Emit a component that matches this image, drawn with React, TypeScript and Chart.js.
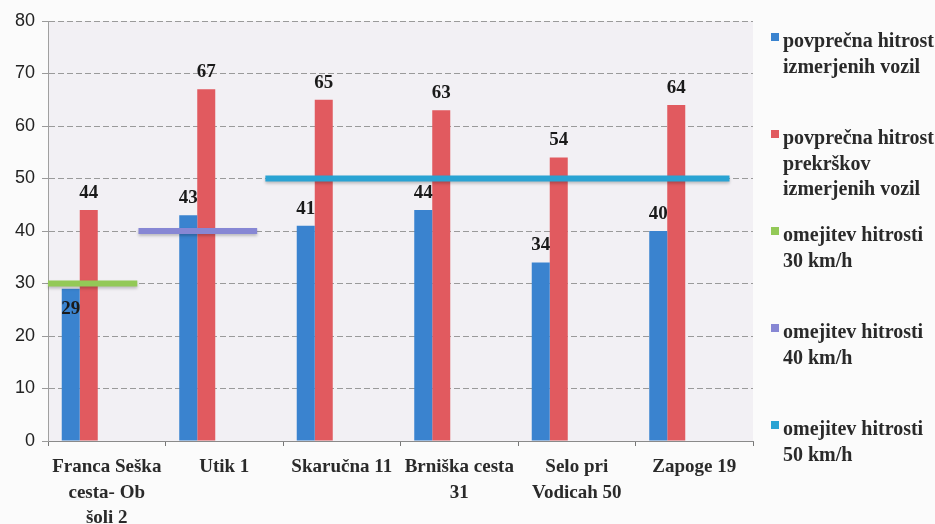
import { useEffect, useRef } from "react";
import { Chart, registerables } from "chart.js";

Chart.register(...registerables);

// ---- data ----
const categories: string[][] = [
  ["Franca Seška", "cesta- Ob", "šoli 2"],
  ["Utik 1"],
  ["Skaručna 11"],
  ["Brniška cesta", "31"],
  ["Selo pri", "Vodicah 50"],
  ["Zapoge 19"],
];
const avgSpeed = [29, 43, 41, 44, 34, 40];
const avgViolationSpeed = [44, 67, 65, 63, 54, 64];
const seriesNames: string[][] = [
  ["povprečna hitrost", "izmerjenih vozil"],
  ["povprečna hitrost", "prekrškov", "izmerjenih vozil"],
  ["omejitev hitrosti", "30 km/h"],
  ["omejitev hitrosti", "40 km/h"],
  ["omejitev hitrosti", "50 km/h"],
];
const limitValues = [30, 40, 50];
// extent of each limit line in category-index units
const limitFrom = [-0.5, 0.27, 1.35];
const limitTo = [0.26, 1.28, 5.3];
const yMin = 0;
const yMax = 80;
const yStep = 10;

// ---- styles ----
const seriesColors = ["#3a83cf", "#e15a5f", "#93c957", "#8787d4", "#2aa3d3"];
const serif = "'Liberation Serif', 'Times New Roman', serif";
const sans = "'Liberation Sans', Arial, sans-serif";
const textColor = "#2a2a2a";

const emptySeries = () => categories.map(() => null);

function limitSegments(chart: any) {
  const xs = chart.scales.x;
  const ys = chart.scales.y;
  const p0 = xs.getPixelForValue(0);
  const p1 = xs.getPixelForValue(1);
  const at = (v: number) => p0 + (p1 - p0) * v;
  return limitValues.map((v, i) => ({
    x1: at(limitFrom[i]),
    x2: at(limitTo[i]),
    y: ys.getPixelForValue(v),
    color: seriesColors[i + 2],
  }));
}

export default function App() {
  const ref = useRef<HTMLCanvasElement>(null);

  useEffect(() => {
    if (!ref.current) return;

    const bgPlugin = {
      id: "bg",
      beforeDraw(chart: any) {
        const { ctx, width, height } = chart;
        ctx.save();
        ctx.fillStyle = "#fbfbfb";
        ctx.fillRect(0, 0, width, height);
        const a = chart.chartArea;
        ctx.fillStyle = "#f2f0f4";
        ctx.fillRect(a.left, a.top, a.right - a.left, a.bottom - a.top);
        ctx.restore();
      },
    };

    const limitPlugin = {
      id: "limitLines",
      afterDatasetsDraw(chart: any) {
        const ctx = chart.ctx;
        ctx.save();
        ctx.lineWidth = 6;
        ctx.lineCap = "butt";
        ctx.shadowColor = "rgba(0,0,0,0.22)";
        ctx.shadowBlur = 3;
        ctx.shadowOffsetY = 2;
        for (const s of limitSegments(chart)) {
          ctx.strokeStyle = s.color;
          ctx.beginPath();
          ctx.moveTo(s.x1, s.y);
          ctx.lineTo(s.x2, s.y);
          ctx.stroke();
        }
        ctx.restore();
      },
    };

    const labelPlugin = {
      id: "valueLabels",
      afterDatasetsDraw(chart: any) {
        const ctx = chart.ctx;
        const lines = limitSegments(chart);
        ctx.save();
        ctx.font = `bold 19px ${serif}`;
        ctx.fillStyle = "#1a1a1a";
        ctx.textAlign = "center";
        ctx.textBaseline = "middle";
        [0, 1].forEach((di) => {
          const meta = chart.getDatasetMeta(di);
          const data = chart.data.datasets[di].data;
          meta.data.forEach((el: any, i: number) => {
            const v = data[i];
            if (v == null) return;
            let cy = el.y - 17;
            for (const l of lines) {
              if (el.x >= l.x1 && el.x <= l.x2 && Math.abs(cy - l.y) < 12) {
                cy = l.y + 26;
              }
            }
            ctx.fillText(String(v), el.x, cy);
          });
        });
        ctx.restore();
      },
    };

    const legendPlugin = {
      id: "sideLegend",
      afterDraw(chart: any) {
        const ctx = chart.ctx;
        const a = chart.chartArea;
        const x0 = a.right + 18;
        ctx.save();
        ctx.font = `bold 20px ${serif}`;
        ctx.textAlign = "left";
        ctx.textBaseline = "middle";
        seriesNames.forEach((lines, i) => {
          const y0 = a.top + 21 + i * 97;
          ctx.fillStyle = seriesColors[i];
          ctx.fillRect(x0, y0 - 9, 8, 8);
          ctx.fillStyle = textColor;
          lines.forEach((t, j) => ctx.fillText(t, x0 + 12, y0 + j * 25.5));
        });
        ctx.restore();
      },
    };

    const barDatasets = [avgSpeed, avgViolationSpeed, emptySeries(), emptySeries(), emptySeries()].map(
      (d, i) => ({
        type: "bar" as const,
        label: seriesNames[i].join(" "),
        data: d,
        backgroundColor: seriesColors[i],
        borderWidth: 0,
        categoryPercentage: 0.766,
        barPercentage: 1.0,
      })
    );

    const chart = new Chart(ref.current, {
      type: "bar",
      data: {
        labels: categories as any,
        datasets: barDatasets as any,
      },
      options: {
        animation: false,
        responsive: false,
        layout: { padding: { top: 21, right: 182, left: 0, bottom: 0 } },
        plugins: {
          legend: { display: false },
          tooltip: { enabled: false },
        },
        scales: {
          x: {
            type: "category",
            offset: true,
            grid: {
              offset: true,
              drawOnChartArea: false,
              drawTicks: true,
              tickLength: 5,
              color: "#777",
            },
            border: { display: true, color: "#8a8a8a", width: 1 },
            ticks: {
              autoSkip: false,
              maxRotation: 0,
              minRotation: 0,
              padding: 9,
              color: textColor,
              font: { family: serif, size: 19, weight: "bold", lineHeight: 1.32 },
            },
            afterFit(s: any) {
              s.height = 83;
            },
          },
          y: {
            min: yMin,
            max: yMax,
            ticks: {
              stepSize: yStep,
              padding: 7,
              color: "#222",
              font: { family: sans, size: 18 },
            },
            grid: {
              color: "#9a9a9a",
              lineWidth: 1,
              tickLength: 6,
            },
            border: { display: true, color: "#a0a0a0", dash: [6, 3] },
            afterFit(s: any) {
              s.width = 48;
            },
          },
        },
      },
      plugins: [bgPlugin, limitPlugin, labelPlugin, legendPlugin],
    });

    return () => chart.destroy();
  }, []);

  return (
    <div style={{ position: "fixed", left: 0, top: 0, width: 935, height: 524 }}>
      <canvas ref={ref} width={935} height={524} style={{ display: "block" }} />
    </div>
  );
}
